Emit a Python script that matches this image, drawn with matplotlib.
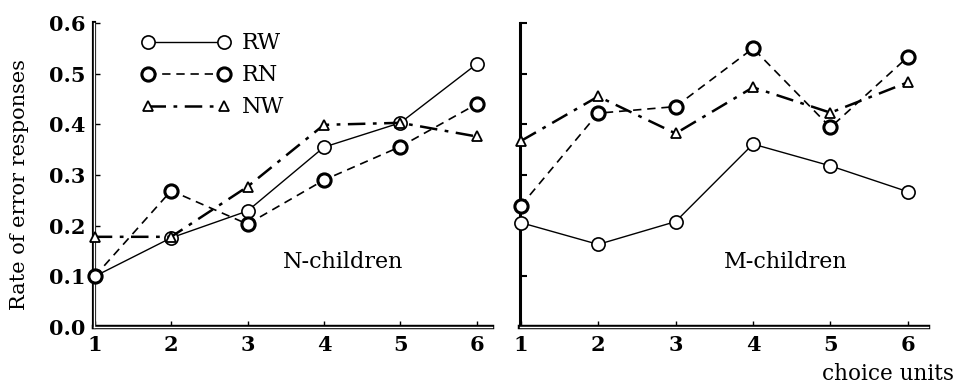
import matplotlib
matplotlib.use("Agg")
import matplotlib.pyplot as plt

plt.rcParams['font.family'] = ['DejaVu Serif']

units = [1, 2, 3, 4, 5, 6]
yticks = [0.0, 0.1, 0.2, 0.3, 0.4, 0.5, 0.6]

n_rw = [0.10, 0.176, 0.229, 0.355, 0.403, 0.519]
n_rn = [0.10, 0.269, 0.203, 0.290, 0.356, 0.440]
n_nw = [0.178, 0.178, 0.277, 0.399, 0.403, 0.376]

m_rw = [0.206, 0.163, 0.208, 0.361, 0.318, 0.267]
m_rn = [0.239, 0.422, 0.435, 0.550, 0.394, 0.533]
m_nw = [0.367, 0.455, 0.382, 0.473, 0.423, 0.483]

fig = plt.figure(figsize=(9.57, 3.85), dpi=100)
W, H = 957, 385
axL = fig.add_axes([94 / W, 1 - 327 / H, (492 - 94) / W, (327 - 23) / H])
axR = fig.add_axes([520 / W, 1 - 327 / H, (928 - 520) / W, (327 - 23) / H])

styles = dict(
    rw=dict(color='black', lw=1.0, ls='-', marker='o', ms=9.5, mfc='white', mec='black', mew=1.2),
    rn=dict(color='black', lw=1.2, ls=(0, (5, 3.5)), marker='o', ms=9.5, mfc='white', mec='black', mew=2.2),
    nw=dict(color='black', lw=1.8, ls=(0, (7, 3, 1.5, 3)), marker='^', ms=7.5, mfc='white', mec='black', mew=1.3),
)

for ax, rw, rn, nw in [(axL, n_rw, n_rn, n_nw), (axR, m_rw, m_rn, m_nw)]:
    ax.plot(units, rw, label='RW', **styles['rw'], clip_on=False, zorder=4)
    ax.plot(units, rn, label='RN', **styles['rn'], clip_on=False, zorder=4)
    ax.plot(units, nw, label='NW', **styles['nw'], clip_on=False, zorder=4)
    ax.set_ylim(0, 0.6)
    ax.set_yticks(yticks)
    ax.set_xticks(units)
    for s in ['top', 'right']:
        ax.spines[s].set_visible(False)
    ax.spines['bottom'].set_linewidth(3.2)
    ax.tick_params(direction='in', length=4, width=1, labelsize=15, pad=6)
    for lab in ax.get_xticklabels() + ax.get_yticklabels():
        lab.set_fontweight('bold')
    # double-rule look on the bottom axis
    ax.axhline(0, color='white', lw=1.0, zorder=3, clip_on=False)

axL.spines['left'].set_linewidth(3.0)
axL.axvline(0.99, color='white', lw=1.0, zorder=3, clip_on=False)
axR.spines['left'].set_linewidth(2.2)

axL.set_xlim(0.99, 6.2)
axR.set_xlim(0.99, 6.26)
axR.tick_params(axis='y', labelleft=False, width=1.5, length=5)

axL.set_ylabel('Rate of error responses', fontsize=15)
axL.yaxis.set_label_coords(-0.163, 0.47)

leg = axL.legend(loc='upper left', bbox_to_anchor=(0.08, 1.02), frameon=False,
                 numpoints=2, handlelength=4.0, fontsize=16, handletextpad=0.5,
                 labelspacing=0.45, borderaxespad=0.3)

axL.text(0.626, 0.214, 'N-children', transform=axL.transAxes, fontsize=16,
         ha='center', va='center')
axR.text(0.652, 0.214, 'M-children', transform=axR.transAxes, fontsize=16,
         ha='center', va='center')
fig.text(888 / W, 1 - 374 / H, 'choice units', fontsize=15.5, ha='center', va='center')

fig.savefig('out.png', dpi=100)
